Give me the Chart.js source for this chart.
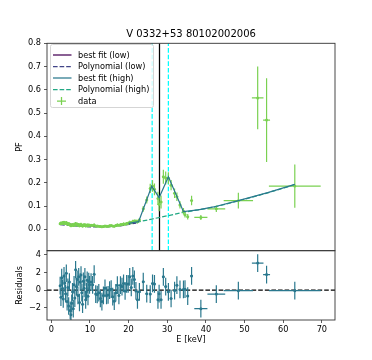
<!DOCTYPE html>
<html>
<head>
<meta charset="utf-8">
<script src="https://cdn.jsdelivr.net/npm/chart.js@4.4.1/dist/chart.umd.min.js"></script>
<style>
  body { margin: 0; background: #fff; }
  #wrap { position: relative; width: 372px; height: 360px; }
  canvas { position: absolute; left: 0; top: 0; }
</style>
</head>
<body>
<div id="wrap">
  <canvas id="pfChart" width="372" height="360"></canvas>
  <canvas id="resChart" width="372" height="360"></canvas>
</div>
<script>
const chartTitle = 'V 0332+53 80102002006';

// energy bins (keV) and half widths
const energy = [
  2.3, 2.5, 2.7, 2.9, 3.1, 3.3, 3.5, 3.7, 3.9, 4.1,
  4.3, 4.5, 4.7, 4.9, 5.1, 5.3, 5.5, 5.7, 5.9, 6.1,
  6.3, 6.5, 6.7, 6.9, 7.1, 7.3, 7.5, 7.7, 7.9, 8.1,
  8.3, 8.5, 8.7, 8.9, 9.1, 9.3, 9.5, 9.7, 9.9,
  10.3, 10.7, 11.1, 11.5, 11.9, 12.3, 12.7, 13.1, 13.5, 13.9,
  14.3, 14.7, 15.1, 15.5, 15.9, 16.3, 16.7, 17.1, 17.5, 17.9,
  18.3, 18.7, 19.1, 19.5, 19.9, 20.3, 20.7, 21.1, 21.5, 21.9, 22.3,
  22.8, 23.8, 24.7, 25.6, 26.2, 26.7, 27.6, 27.9, 28.4, 29.0,
  29.6, 30.3, 31.0, 31.9, 32.5, 33.3, 34.2, 34.6, 35.3, 36.3,
  38.7, 42.7, 48.4, 53.4, 55.7, 63.0
];
const energyErr = [
  0.1, 0.1, 0.1, 0.1, 0.1, 0.1, 0.1, 0.1, 0.1, 0.1,
  0.1, 0.1, 0.1, 0.1, 0.1, 0.1, 0.1, 0.1, 0.1, 0.1,
  0.1, 0.1, 0.1, 0.1, 0.1, 0.1, 0.1, 0.1, 0.1, 0.1,
  0.1, 0.1, 0.1, 0.1, 0.1, 0.1, 0.1, 0.1, 0.1,
  0.2, 0.2, 0.2, 0.2, 0.2, 0.2, 0.2, 0.2, 0.2, 0.2,
  0.2, 0.2, 0.2, 0.2, 0.2, 0.2, 0.2, 0.2, 0.2, 0.2,
  0.2, 0.2, 0.2, 0.2, 0.2, 0.2, 0.2, 0.2, 0.2, 0.2, 0.2,
  0.3, 0.3, 0.3, 0.3, 0.3, 0.3, 0.2, 0.2, 0.3, 0.3,
  0.3, 0.3, 0.3, 0.3, 0.3, 0.3, 0.3, 0.3, 0.3, 0.3,
  1.7, 2.3, 3.8, 1.5, 0.9, 6.7
];

// pulsed fraction
const pf = [
  0.024, 0.027, 0.025, 0.028, 0.026, 0.030, 0.027, 0.025, 0.029, 0.023,
  0.025, 0.021, 0.023, 0.018, 0.016, 0.018, 0.020, 0.016, 0.021, 0.018,
  0.025, 0.020, 0.022, 0.017, 0.021, 0.015, 0.019, 0.021, 0.017, 0.014,
  0.019, 0.017, 0.020, 0.015, 0.016, 0.019, 0.015, 0.018, 0.017,
  0.017, 0.016, 0.019, 0.014, 0.014, 0.013, 0.012, 0.011, 0.012, 0.014,
  0.013, 0.013, 0.015, 0.016, 0.014, 0.013, 0.016, 0.019, 0.017, 0.020,
  0.021, 0.023, 0.022, 0.025, 0.026, 0.030, 0.029, 0.034, 0.035, 0.035, 0.033,
  0.040, 0.088, 0.126, 0.176, 0.186, 0.172, 0.133, 0.108, 0.117, 0.226,
  0.221, 0.220, 0.190, 0.155, 0.140, 0.105, 0.078, 0.063, 0.054, 0.124,
  0.051, 0.088, 0.123, 0.565, 0.470, 0.186
];
const pfErr = [
  0.006, 0.006, 0.006, 0.007, 0.006, 0.006, 0.007, 0.006, 0.006, 0.006,
  0.006, 0.007, 0.006, 0.006, 0.007, 0.006, 0.006, 0.006, 0.007, 0.006,
  0.006, 0.006, 0.007, 0.006, 0.006, 0.006, 0.006, 0.007, 0.006, 0.006,
  0.006, 0.006, 0.006, 0.007, 0.006, 0.006, 0.006, 0.006, 0.006,
  0.005, 0.005, 0.006, 0.005, 0.005, 0.005, 0.005, 0.005, 0.005, 0.005,
  0.005, 0.005, 0.006, 0.005, 0.005, 0.005, 0.006, 0.006, 0.006, 0.006,
  0.006, 0.006, 0.006, 0.006, 0.007, 0.007, 0.007, 0.007, 0.007, 0.007, 0.008,
  0.009, 0.012, 0.015, 0.020, 0.025, 0.025, 0.028, 0.030, 0.028, 0.030,
  0.028, 0.025, 0.022, 0.020, 0.018, 0.016, 0.014, 0.012, 0.012, 0.020,
  0.011, 0.014, 0.034, 0.135, 0.180, 0.093
];

// residuals in sigma units, every bar is +-1 sigma
const resid = [
  0.5, -0.8, 1.4, 0.2, -1.0, 1.6, 0.8, -0.4, 1.9, -1.3,
  0.3, -1.8, 0.9, -2.3, -2.8, -1.5, -0.2, -2.1, 0.6, -0.9,
  2.3, 0.4, 1.2, -0.6, 1.5, -1.4, 0.9, 1.7, -0.3, -1.6,
  1.0, 0.2, 1.5, -1.1, -0.2, 1.1, -0.7, 0.95, 0.6,
  0.9, 0.6, 1.8, -0.45, -0.5, -0.3, -0.95, -1.3, -0.6, 0.2,
  -0.6, -0.55, 0.0, 0.1, -0.75, -1.25, -0.3, 0.55, -0.6, 0.55,
  0.4, 0.75, -0.1, 0.7, 0.7, 1.5, 0.3, 1.6, 1.2, -0.1, -1.1,
  -0.2, 0.95, -0.4, -0.45, 0.75, 0.7, -1.1, -0.4, -1.1, 1.5,
  0.4, -0.2, -0.95, -0.05, 0.55, 0.07, 0.07, 0.1, -0.68, 1.6,
  -2.1, -0.45, -0.07, 3.05, 1.75, -0.07
];
const residSigma = 1;

// model curves
const fitLowE = [2.3, 4.0, 6.0, 8.0, 10.0, 13.0, 16.0, 19.0, 22.0];
const fitLow = [0.026, 0.025, 0.019, 0.017, 0.016, 0.012, 0.014, 0.021, 0.032];
const polyLowE = [2.3, 6.0, 10.0, 14.0, 18.0, 22.0];
const polyLow = [0.020, 0.015, 0.011, 0.010, 0.015, 0.027];
const fitHighE = [20.0, 22.6, 26.0, 27.9, 30.3, 34.2, 38.0, 42.0, 48.4, 56.0, 63.0];
const fitHigh = [0.026, 0.033, 0.186, 0.136, 0.226, 0.076, 0.084, 0.096, 0.123, 0.158, 0.193];
const polyHighE = [22.0, 26.0, 30.0, 34.2, 42.0, 48.4, 56.0, 63.0];
const polyHigh = [0.030, 0.044, 0.058, 0.073, 0.095, 0.122, 0.157, 0.192];

// cyclotron line centre and its band
const lineE = 28.0;
const lineBand = [26.1, 30.3];

const legendLabels = ['best fit (low)', 'Polynomial (low)', 'best fit (high)', 'Polynomial (high)', 'data'];
const xTicks = [0, 10, 20, 30, 40, 50, 60, 70];
const pfTicks = [0.0, 0.1, 0.2, 0.3, 0.4, 0.5, 0.6, 0.7, 0.8];
const residTicks = [-2, 0, 2, 4];

const xMin = -1.1, xMax = 73.4;
const pfMin = -0.092, pfMax = 0.8;
const resMin = -3.38, resMax = 4.45;

Chart.defaults.font.family = 'DejaVu Sans';
Chart.defaults.font.size = 8.2;
Chart.defaults.color = '#000';

const toPts = (xs, ys) => xs.map((x, i) => ({ x: x, y: ys[i] }));
const dash = [4.6, 2];

// error bars for datasets carrying xErr / yErr
const errorBars = {
  id: 'errorBars',
  afterDatasetDraw(chart, args) {
    const ds = chart.data.datasets[args.index];
    if (!ds.xErr) return;
    const ctx = chart.ctx, a = chart.chartArea;
    const sx = chart.scales.x, sy = chart.scales.y;
    ctx.save();
    ctx.beginPath();
    ctx.rect(a.left, a.top, a.right - a.left, a.bottom - a.top);
    ctx.clip();
    ctx.strokeStyle = ds.borderColor;
    ctx.lineWidth = 1.2;
    ds.data.forEach((p, i) => {
      const ye = Array.isArray(ds.yErr) ? ds.yErr[i] : ds.yErr;
      ctx.beginPath();
      ctx.moveTo(sx.getPixelForValue(p.x - ds.xErr[i]), sy.getPixelForValue(p.y));
      ctx.lineTo(sx.getPixelForValue(p.x + ds.xErr[i]), sy.getPixelForValue(p.y));
      ctx.moveTo(sx.getPixelForValue(p.x), sy.getPixelForValue(p.y - ye));
      ctx.lineTo(sx.getPixelForValue(p.x), sy.getPixelForValue(p.y + ye));
      ctx.stroke();
    });
    ctx.restore();
  }
};

const frame = {
  id: 'frame',
  afterDraw(chart) {
    const ctx = chart.ctx, a = chart.chartArea;
    ctx.save();
    ctx.strokeStyle = '#333';
    ctx.lineWidth = 0.9;
    ctx.strokeRect(a.left, a.top, a.right - a.left, a.bottom - a.top);
    ctx.restore();
  }
};

const legendBox = {
  id: 'legendBox',
  afterDraw(chart) {
    const ctx = chart.ctx;
    ctx.save();
    ctx.fillStyle = 'rgba(255,255,255,0.8)';
    ctx.strokeStyle = '#d5d5d5';
    ctx.lineWidth = 1;
    ctx.beginPath();
    ctx.roundRect(50.5, 44.5, 103, 63, 2);
    ctx.fill();
    ctx.stroke();
    ctx.font = '8.2px "DejaVu Sans"';
    ctx.textBaseline = 'middle';
    legendLabels.forEach((name, i) => {
      const ds = chart.data.datasets.find(d => d.label === name);
      const y = 55 + i * 11.5;
      ctx.strokeStyle = ds.borderColor;
      ctx.lineWidth = 1.25;
      ctx.beginPath();
      if (name === 'data') {
        ctx.moveTo(57, y); ctx.lineTo(66, y);
        ctx.moveTo(61.5, y - 4); ctx.lineTo(61.5, y + 4);
      } else {
        ctx.setLineDash(ds.borderDash || []);
        ctx.moveTo(53, y); ctx.lineTo(71.5, y);
      }
      ctx.stroke();
      ctx.setLineDash([]);
      ctx.fillStyle = '#000';
      ctx.fillText(name, 78, y + 0.5);
    });
    ctx.restore();
  }
};

const lineSet = (label, xs, ys, color, dashed) => ({
  label: label, data: toPts(xs, ys), showLine: true, borderColor: color,
  backgroundColor: color, borderWidth: 1.25, pointRadius: 0, borderDash: dashed ? dash : []
});

// left axis 37px wide after a 10px page margin, and an empty 37px right axis,
// so the plot spans 47..335 and the title centres on it
const yAxisCommon = {
  afterFit: s => { s.width = 37; },
  grid: { drawOnChartArea: false, tickLength: 3, color: '#333', lineWidth: 0.8 },
  border: { display: false }
};
const rightSpacer = {
  position: 'right', display: true,
  afterFit: s => { s.width = 37; },
  ticks: { display: false }, grid: { display: false }, border: { display: false }
};

// first dataset is drawn on top
new Chart(document.getElementById('pfChart'), {
  type: 'scatter',
  data: {
    datasets: [
      lineSet('best fit (high)', fitHighE, fitHigh, '#2a788e', false),
      { label: 'data', data: toPts(energy, pf), xErr: energyErr, yErr: pfErr,
        borderColor: '#7ad151', backgroundColor: '#7ad151', pointRadius: 1.5, pointBorderWidth: 0 },
      lineSet('Polynomial (high)', polyHighE, polyHigh, '#22a884', true),
      lineSet('best fit (low)', fitLowE, fitLow, '#440154', false),
      lineSet('Polynomial (low)', polyLowE, polyLow, '#414487', true),
      lineSet('line', [lineE, lineE], [pfMin, pfMax], '#000000', false),
      lineSet('band low', [lineBand[0], lineBand[0]], [pfMin, pfMax], '#00ffff', true),
      lineSet('band high', [lineBand[1], lineBand[1]], [pfMin, pfMax], '#00ffff', true)
    ]
  },
  options: {
    responsive: false,
    animation: false,
    layout: { padding: { left: 10, right: 0, top: 0, bottom: 109.3 } },
    plugins: {
      legend: { display: false },
      tooltip: { enabled: false },
      title: { display: true, text: chartTitle, color: '#000',
        font: { size: 10, weight: 'normal' }, padding: { top: 28.7, bottom: 2.6 } }
    },
    scales: {
      x: { type: 'linear', min: xMin, max: xMax, display: false },
      y: Object.assign({}, yAxisCommon, {
        min: pfMin, max: pfMax,
        afterBuildTicks: s => { s.ticks = pfTicks.map(v => ({ value: v })); },
        ticks: { padding: 3, callback: v => v.toFixed(1) },
        title: { display: true, text: 'PF', padding: { top: 5 } }
      }),
      yr: rightSpacer
    }
  },
  plugins: [errorBars, frame, legendBox]
});

new Chart(document.getElementById('resChart'), {
  type: 'scatter',
  data: {
    datasets: [
      { label: 'residuals', data: toPts(energy, resid), xErr: energyErr, yErr: residSigma,
        borderColor: '#2a788e', backgroundColor: '#2a788e', pointRadius: 1.5, pointBorderWidth: 0 },
      lineSet('zero', [xMin, xMax], [0, 0], '#000000', true)
    ]
  },
  options: {
    responsive: false,
    animation: false,
    layout: { padding: { left: 10, right: 0, top: 250.7, bottom: 0 } },
    plugins: { legend: { display: false }, tooltip: { enabled: false } },
    scales: {
      x: {
        type: 'linear', min: xMin, max: xMax,
        afterFit: s => { s.height = 40; },
        afterBuildTicks: s => { s.ticks = xTicks.map(v => ({ value: v })); },
        ticks: { padding: 2, maxRotation: 0 },
        grid: { drawOnChartArea: false, tickLength: 3, color: '#333', lineWidth: 0.8 },
        border: { display: false },
        title: { display: true, text: 'E [keV]', padding: { top: 0, bottom: 15 } }
      },
      y: Object.assign({}, yAxisCommon, {
        min: resMin, max: resMax,
        afterBuildTicks: s => { s.ticks = residTicks.map(v => ({ value: v })); },
        ticks: { padding: 3, callback: v => (v < 0 ? '\u2212' + Math.abs(v) : String(v)) },
        title: { display: true, text: 'Residuals', padding: { top: 5 } }
      }),
      yr: rightSpacer
    }
  },
  plugins: [errorBars, frame]
});
</script>
</body>
</html>
